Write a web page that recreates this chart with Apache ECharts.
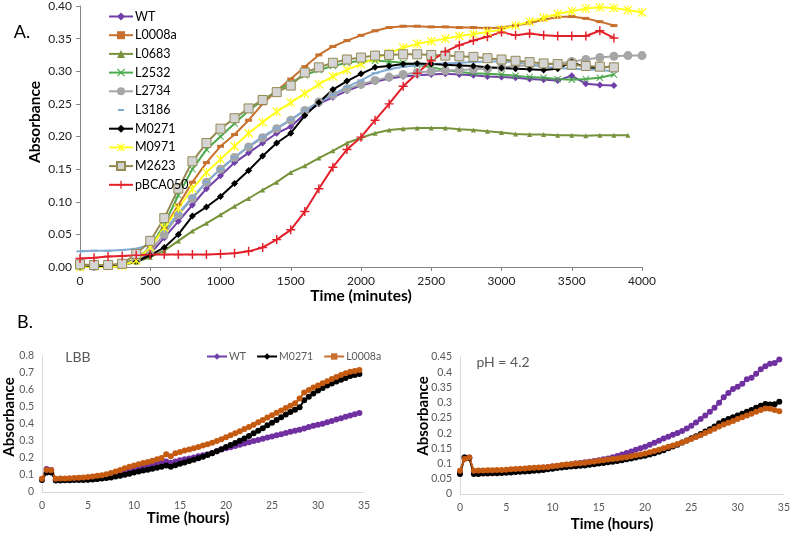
<!DOCTYPE html>
<html lang="en">
<head>
<meta charset="UTF-8">
<title>Growth curves</title>
<script src="https://cdn.jsdelivr.net/npm/echarts@6/dist/echarts.min.js"></script>
<style>
  body { margin: 0; background: #fff; }
  #chart { width: 793px; height: 533px; }
</style>
</head>
<body>
<div id="chart"></div>
<script>
// ---- panel A : absorbance vs time (minutes), sampled every 100 min ----
var minutes = Array.from({length: 41}, function (_, i) { return i * 100; });

var aWT      = [0.000,0.000,0.002,0.004,0.010,0.020,0.045,0.070,0.095,0.120,0.140,0.160,0.175,0.190,0.205,0.215,0.235,0.250,0.260,0.270,0.278,0.284,0.289,0.292,0.294,0.295,0.296,0.295,0.294,0.292,0.291,0.290,0.288,0.287,0.286,0.293,0.281,0.279,0.278];
var aL0008a  = [0.000,0.000,0.002,0.005,0.012,0.030,0.060,0.095,0.130,0.160,0.185,0.203,0.225,0.250,0.270,0.288,0.307,0.325,0.338,0.347,0.355,0.362,0.367,0.369,0.369,0.368,0.368,0.367,0.367,0.366,0.367,0.370,0.374,0.379,0.383,0.384,0.381,0.376,0.370];
var aL0683   = [0.000,0.000,0.001,0.003,0.008,0.015,0.025,0.040,0.055,0.067,0.080,0.093,0.105,0.118,0.130,0.145,0.155,0.167,0.178,0.190,0.198,0.205,0.210,0.212,0.213,0.213,0.213,0.211,0.210,0.208,0.206,0.204,0.203,0.203,0.202,0.202,0.201,0.202,0.202,0.202];
var aL2532   = [0.000,0.000,0.002,0.004,0.012,0.030,0.065,0.110,0.150,0.180,0.200,0.220,0.240,0.255,0.270,0.282,0.294,0.302,0.308,0.313,0.316,0.316,0.315,0.313,0.310,0.306,0.302,0.299,0.297,0.296,0.295,0.293,0.291,0.290,0.288,0.287,0.288,0.290,0.295];
var aL2734   = [0.002,0.001,0.002,0.004,0.010,0.025,0.050,0.080,0.105,0.130,0.150,0.168,0.184,0.198,0.212,0.225,0.240,0.253,0.264,0.273,0.280,0.286,0.291,0.295,0.298,0.300,0.301,0.302,0.303,0.304,0.306,0.308,0.309,0.310,0.312,0.315,0.318,0.321,0.323,0.324,0.324];
var aL3186   = [0.024,0.025,0.025,0.026,0.028,0.034,0.055,0.082,0.107,0.130,0.150,0.168,0.185,0.200,0.213,0.226,0.240,0.252,0.264,0.276,0.286,0.297,0.303,0.307,0.309,0.311,0.312,0.313,0.314,0.315,0.315,0.314,0.310,0.307,0.305,0.304,0.303,0.302,0.300];
var aM0271   = [0.000,0.000,0.001,0.003,0.008,0.018,0.030,0.050,0.078,0.092,0.108,0.128,0.148,0.170,0.190,0.205,0.232,0.252,0.272,0.285,0.296,0.306,0.308,0.311,0.312,0.311,0.310,0.309,0.308,0.306,0.305,0.304,0.303,0.302,0.304,0.314,0.306,0.305,0.308];
var aM0971   = [0.000,-0.002,-0.001,0.002,0.010,0.030,0.060,0.090,0.120,0.145,0.165,0.185,0.205,0.222,0.238,0.252,0.266,0.280,0.292,0.302,0.311,0.320,0.328,0.336,0.342,0.346,0.350,0.354,0.357,0.360,0.364,0.370,0.376,0.382,0.388,0.392,0.396,0.398,0.397,0.394,0.390];
var aM2623   = [0.004,0.003,0.003,0.005,0.020,0.040,0.075,0.120,0.162,0.190,0.212,0.228,0.243,0.256,0.268,0.278,0.298,0.306,0.313,0.318,0.321,0.324,0.325,0.326,0.326,0.325,0.324,0.323,0.322,0.320,0.318,0.316,0.314,0.312,0.311,0.310,0.308,0.307,0.306];
var aPBCA050 = [0.013,0.014,0.016,0.017,0.018,0.019,0.019,0.019,0.019,0.019,0.020,0.021,0.024,0.030,0.042,0.057,0.085,0.120,0.153,0.180,0.199,0.225,0.250,0.277,0.297,0.316,0.330,0.340,0.347,0.353,0.360,0.355,0.358,0.355,0.354,0.354,0.354,0.362,0.351];

// ---- panel B : absorbance vs time (hours), sampled every 0.5 h ----
var hours = Array.from({length: 70}, function (_, i) { return i * 0.5; });

var lbbWT    = [0.075,0.135,0.130,0.072,0.072,0.072,0.072,0.073,0.073,0.073,0.074,0.076,0.078,0.081,0.085,0.092,0.100,0.108,0.117,0.126,0.135,0.142,0.148,0.154,0.160,0.166,0.172,0.180,0.172,0.180,0.187,0.192,0.197,0.203,0.210,0.216,0.222,0.230,0.240,0.250,0.257,0.263,0.270,0.278,0.285,0.292,0.300,0.306,0.313,0.320,0.327,0.334,0.340,0.347,0.354,0.360,0.366,0.374,0.382,0.390,0.396,0.402,0.410,0.418,0.426,0.434,0.443,0.450,0.458,0.465];
var lbbM0271 = [0.070,0.115,0.115,0.068,0.068,0.069,0.069,0.070,0.070,0.071,0.072,0.074,0.076,0.079,0.082,0.086,0.091,0.096,0.102,0.108,0.114,0.120,0.126,0.131,0.137,0.142,0.148,0.156,0.148,0.158,0.166,0.174,0.182,0.190,0.199,0.208,0.218,0.228,0.240,0.252,0.264,0.276,0.288,0.302,0.315,0.330,0.345,0.360,0.375,0.392,0.408,0.424,0.440,0.456,0.470,0.484,0.498,0.540,0.560,0.580,0.597,0.612,0.626,0.638,0.650,0.660,0.671,0.682,0.688,0.694];
var lbbL0008a= [0.078,0.130,0.128,0.078,0.079,0.080,0.081,0.082,0.084,0.086,0.088,0.091,0.095,0.099,0.104,0.112,0.120,0.130,0.140,0.148,0.156,0.163,0.170,0.177,0.184,0.192,0.200,0.222,0.210,0.228,0.236,0.244,0.250,0.257,0.265,0.273,0.281,0.290,0.300,0.310,0.322,0.334,0.346,0.358,0.370,0.383,0.396,0.410,0.424,0.438,0.452,0.466,0.480,0.494,0.508,0.522,0.550,0.585,0.600,0.614,0.627,0.640,0.652,0.664,0.676,0.688,0.698,0.708,0.712,0.718];

var phWT     = [0.072,0.120,0.120,0.072,0.072,0.073,0.073,0.074,0.075,0.075,0.076,0.077,0.078,0.079,0.080,0.081,0.082,0.084,0.086,0.088,0.090,0.092,0.094,0.096,0.098,0.100,0.102,0.104,0.106,0.108,0.111,0.114,0.117,0.121,0.125,0.130,0.135,0.140,0.145,0.150,0.155,0.162,0.168,0.175,0.182,0.188,0.195,0.200,0.207,0.215,0.224,0.235,0.246,0.258,0.270,0.283,0.300,0.318,0.332,0.345,0.352,0.362,0.377,0.382,0.395,0.410,0.420,0.428,0.430,0.442];
var phM0271  = [0.066,0.120,0.118,0.066,0.066,0.067,0.067,0.068,0.068,0.069,0.070,0.071,0.072,0.073,0.074,0.075,0.076,0.077,0.079,0.081,0.083,0.085,0.087,0.089,0.090,0.091,0.093,0.094,0.096,0.098,0.100,0.102,0.104,0.106,0.108,0.111,0.114,0.117,0.120,0.123,0.126,0.130,0.134,0.139,0.144,0.150,0.156,0.162,0.169,0.176,0.183,0.190,0.197,0.205,0.213,0.222,0.232,0.240,0.246,0.252,0.258,0.264,0.270,0.276,0.283,0.290,0.296,0.294,0.295,0.303];
var phL0008a = [0.076,0.115,0.120,0.076,0.077,0.077,0.078,0.078,0.079,0.079,0.080,0.081,0.082,0.083,0.084,0.085,0.086,0.087,0.088,0.089,0.091,0.093,0.095,0.097,0.098,0.100,0.101,0.103,0.105,0.107,0.109,0.111,0.113,0.115,0.117,0.119,0.121,0.124,0.127,0.130,0.133,0.137,0.141,0.145,0.150,0.155,0.159,0.164,0.169,0.175,0.181,0.187,0.193,0.200,0.207,0.214,0.222,0.228,0.234,0.240,0.246,0.252,0.258,0.264,0.270,0.276,0.281,0.280,0.276,0.272];

var aTicks = ['0.00','0.05','0.10','0.15','0.20','0.25','0.30','0.35','0.40'];

function pairs(xs, ys) {
    return ys.map(function (v, i) { return [xs[i], v]; });
}

var FONT = 'Lato, "Liberation Sans", sans-serif';
var X_MARK = 'path://M0,1L1,0L5,4L9,0L10,1L6,5L10,9L9,10L5,6L1,10L0,9L4,5Z';
var PLUS_MARK = 'path://M4.2,0L5.8,0L5.8,4.2L10,4.2L10,5.8L5.8,5.8L5.8,10L4.2,10L4.2,5.8L0,5.8L0,4.2L4.2,4.2Z';
var STAR_MARK = 'path://M0,1L1,0L5,4L9,0L10,1L6,5L10,9L9,10L5,6L1,10L0,9L4,5ZM4.4,0L5.6,0L5.6,10L4.4,10Z';
// small centred dash inside the legend box (tiny corner specks keep the box size)
var DASH_ICON = 'path://M0,0L0.01,0L0,0.01ZM24,10L23.99,10L24,9.99ZM9,4L15,4L15,6L9,6Z';

// panel A series
function aLine(name, data, color, symbol, size, extra) {
    var s = {
        name: name, type: 'line', xAxisIndex: 0, yAxisIndex: 0,
        data: pairs(minutes, data),
        symbol: symbol, symbolSize: size, showSymbol: true,
        lineStyle: {color: color, width: 2},
        itemStyle: {color: color},
        animation: false
    };
    return Object.assign(s, extra || {});
}
var seriesA = [
    aLine('WT', aWT, '#7040A8', 'diamond', 7),
    aLine('L0008a', aL0008a, '#C8702E', 'rect', [7, 3]),
    aLine('L0683', aL0683, '#77933C', 'triangle', 5),
    aLine('L2532', aL2532, '#4DAA4D', X_MARK, 7),
    aLine('L2734', aL2734, '#A6A6A6', 'circle', 9),
    aLine('L3186', aL3186, '#80AAD2', 'rect', [7, 2]),
    aLine('M0271', aM0271, '#000000', 'diamond', 7),
    aLine('M0971', aM0971, '#FFFF1A', STAR_MARK, 9),
    aLine('M2623', aM2623, '#948A54', 'rect', 9,
        {itemStyle: {color: '#D4D4D4', borderColor: '#948A54', borderWidth: 1}}),
    aLine('pBCA050', aPBCA050, '#E3202A', PLUS_MARK, 9)
];

// panel B series
var bColors = {WT: '#7030A0', M0271: '#000000', L0008a: '#C55A11'};
function bLine(name, data, gi) {
    return {
        name: name, type: 'line', xAxisIndex: gi, yAxisIndex: gi,
        data: pairs(hours, data),
        symbol: 'circle', symbolSize: 6,
        lineStyle: {color: bColors[name], width: 2},
        itemStyle: {color: bColors[name]},
        animation: false
    };
}
var seriesB = [
    bLine('WT', lbbWT, 1), bLine('M0271', lbbM0271, 1), bLine('L0008a', lbbL0008a, 1),
    bLine('WT', phWT, 2), bLine('M0271', phM0271, 2), bLine('L0008a', phL0008a, 2)
];

var axisA = {
    axisLine: {lineStyle: {color: '#868686'}},
    axisTick: {show: true, length: 4, lineStyle: {color: '#868686'}},
    axisLabel: {color: '#222', fontSize: 12, fontFamily: FONT},
    splitLine: {show: false}
};
var axisB = {
    axisLine: {lineStyle: {color: '#D9D9D9'}},
    axisTick: {show: false},
    axisLabel: {color: '#595959', fontSize: 10.5, fontFamily: FONT},
    splitLine: {show: false}
};

function title(text, x, y, size, rot, color, weight) {
    return {
        type: 'text', x: x, y: y, rotation: rot || 0,
        style: {
            text: text, fill: color || '#000',
            font: (weight || 'bold') + ' ' + size + 'px ' + FONT,
            textAlign: 'center', textVerticalAlign: 'middle'
        }
    };
}

var chart = echarts.init(document.getElementById('chart'));
chart.setOption({
    backgroundColor: '#fff',
    grid: [
        {left: 80, top: 5, width: 562, height: 262},
        {left: 42, top: 356, width: 322, height: 136},
        {left: 460, top: 357, width: 327, height: 137}
    ],
    xAxis: [
        Object.assign({}, axisA, {gridIndex: 0, type: 'value', min: 0, max: 4000, interval: 500,
            axisLabel: Object.assign({}, axisA.axisLabel, {
                formatter: function (v) { return String(v); }
            })}),
        Object.assign({}, axisB, {gridIndex: 1, type: 'value', min: 0, max: 35, interval: 5}),
        Object.assign({}, axisB, {gridIndex: 2, type: 'value', min: 0, max: 35, interval: 5})
    ],
    yAxis: [
        Object.assign({}, axisA, {gridIndex: 0, type: 'value', min: 0, max: 0.4, interval: 0.05,
            axisLabel: Object.assign({}, axisA.axisLabel, {
                formatter: function (v) { return aTicks[Math.round(v / 0.05)]; }
            })}),
        Object.assign({}, axisB, {gridIndex: 1, type: 'value', min: 0, max: 0.8, interval: 0.1}),
        Object.assign({}, axisB, {gridIndex: 2, type: 'value', min: 0, max: 0.45, interval: 0.05})
    ],
    legend: [
        {
            data: ['WT', 'L0008a', 'L0683', 'L2532', 'L2734',
                {name: 'L3186', icon: DASH_ICON},
                'M0271', 'M0971', 'M2623', 'pBCA050'],
            orient: 'vertical', left: 103, top: 5,
            itemWidth: 24, itemHeight: 10, itemGap: 5.7,
            textStyle: {fontSize: 12.5, fontFamily: FONT, color: '#000', padding: [0, 0, 0, -3]},
            selectedMode: false
        },
        {
            data: ['WT', 'M0271', 'L0008a'],
            orient: 'horizontal', left: 201, top: 346,
            itemWidth: 20, itemHeight: 8, itemGap: 10,
            textStyle: {fontSize: 10.5, fontFamily: FONT, color: '#595959', padding: [0, 0, 0, -3]},
            selectedMode: false
        }
    ],
    graphic: [
        title('A.', 22, 32, 18, 0, '#000', 'normal'),
        title('B.', 25, 322, 18, 0, '#000', 'normal'),
        title('Absorbance', 35, 122, 15.5, Math.PI / 2),
        title('Time (minutes)', 361, 296, 15.5),
        title('Absorbance', 9, 417, 15, Math.PI / 2),
        title('Time (hours)', 188, 518, 15),
        title('Absorbance', 423, 416, 15, Math.PI / 2),
        title('Time (hours)', 612, 524, 15),
        title('LBB', 78, 357, 14, 0, '#595959', 'normal'),
        title('pH = 4.2', 503, 362, 14, 0, '#595959', 'normal')
    ],
    series: seriesA.concat(seriesB)
});
</script>
</body>
</html>
